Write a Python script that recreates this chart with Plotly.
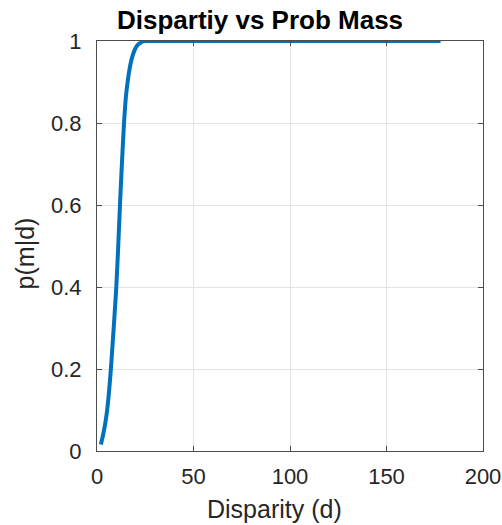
import plotly.graph_objects as go

# Cumulative probability mass p(m|d) against disparity d
disparity = [2, 3, 4, 5, 6, 7, 8, 9, 10, 11, 12, 13, 14, 15, 16, 17, 18,
             19, 20, 21, 22, 23, 24, 25, 26, 178]
prob_mass = [0.016, 0.036, 0.06, 0.09, 0.133, 0.188, 0.255, 0.325, 0.40,
             0.50, 0.61, 0.71, 0.80, 0.865, 0.905, 0.935, 0.957, 0.972,
             0.983, 0.990, 0.994, 0.997, 0.999, 1.0, 1.0, 1.0]

x_ticks = [0, 50, 100, 150, 200]
y_ticks = [0, 0.2, 0.4, 0.6, 0.8, 1]
y_tick_text = ["0", "0.2", "0.4", "0.6", "0.8", "1"]

FONT = "Liberation Sans, Arial, Helvetica, sans-serif"
TEXT = "#262626"
AXIS = "#4d4d4d"
GRID = "#e3e3e3"

fig = go.Figure()
fig.add_trace(go.Scatter(
    x=disparity, y=prob_mass, mode="lines",
    line=dict(color="#0072BD", width=4, shape="spline", smoothing=0.6),
    cliponaxis=False, showlegend=False,
))

axis_common = dict(
    showline=True, linecolor=AXIS, linewidth=1, mirror="ticks",
    ticks="inside", ticklen=5, tickcolor=AXIS, tickwidth=1,
    showgrid=True, gridcolor=GRID, gridwidth=1, zeroline=False,
    automargin=False,
    tickfont=dict(family=FONT, size=22, color=TEXT),
)

fig.update_xaxes(range=[0, 200], tickvals=x_ticks, ticklabelstandoff=6,
                 **axis_common)
fig.update_yaxes(range=[0, 1], tickvals=y_ticks, ticktext=y_tick_text,
                 ticklabelstandoff=10, **axis_common)

fig.update_layout(
    width=502, height=525,
    margin=dict(l=97, r=19, t=41, b=74),
    paper_bgcolor="white", plot_bgcolor="white",
    title=dict(text="<b>Dispartiy vs Prob Mass</b>", x=0.518, xanchor="center",
               y=0.962, yanchor="middle",
               font=dict(family=FONT, size=26, color="black")),
    annotations=[
        dict(text="Disparity (d)", xref="paper", yref="paper",
             x=0.461, y=-0.142, xanchor="center", yanchor="middle",
             showarrow=False, font=dict(family=FONT, size=25, color=TEXT)),
        dict(text="p(m|d)", xref="paper", yref="paper",
             x=-0.1865, y=0.482, xanchor="center", yanchor="middle",
             textangle=-90, showarrow=False,
             font=dict(family=FONT, size=25, color=TEXT)),
    ],
)

fig.write_html("out.html")
